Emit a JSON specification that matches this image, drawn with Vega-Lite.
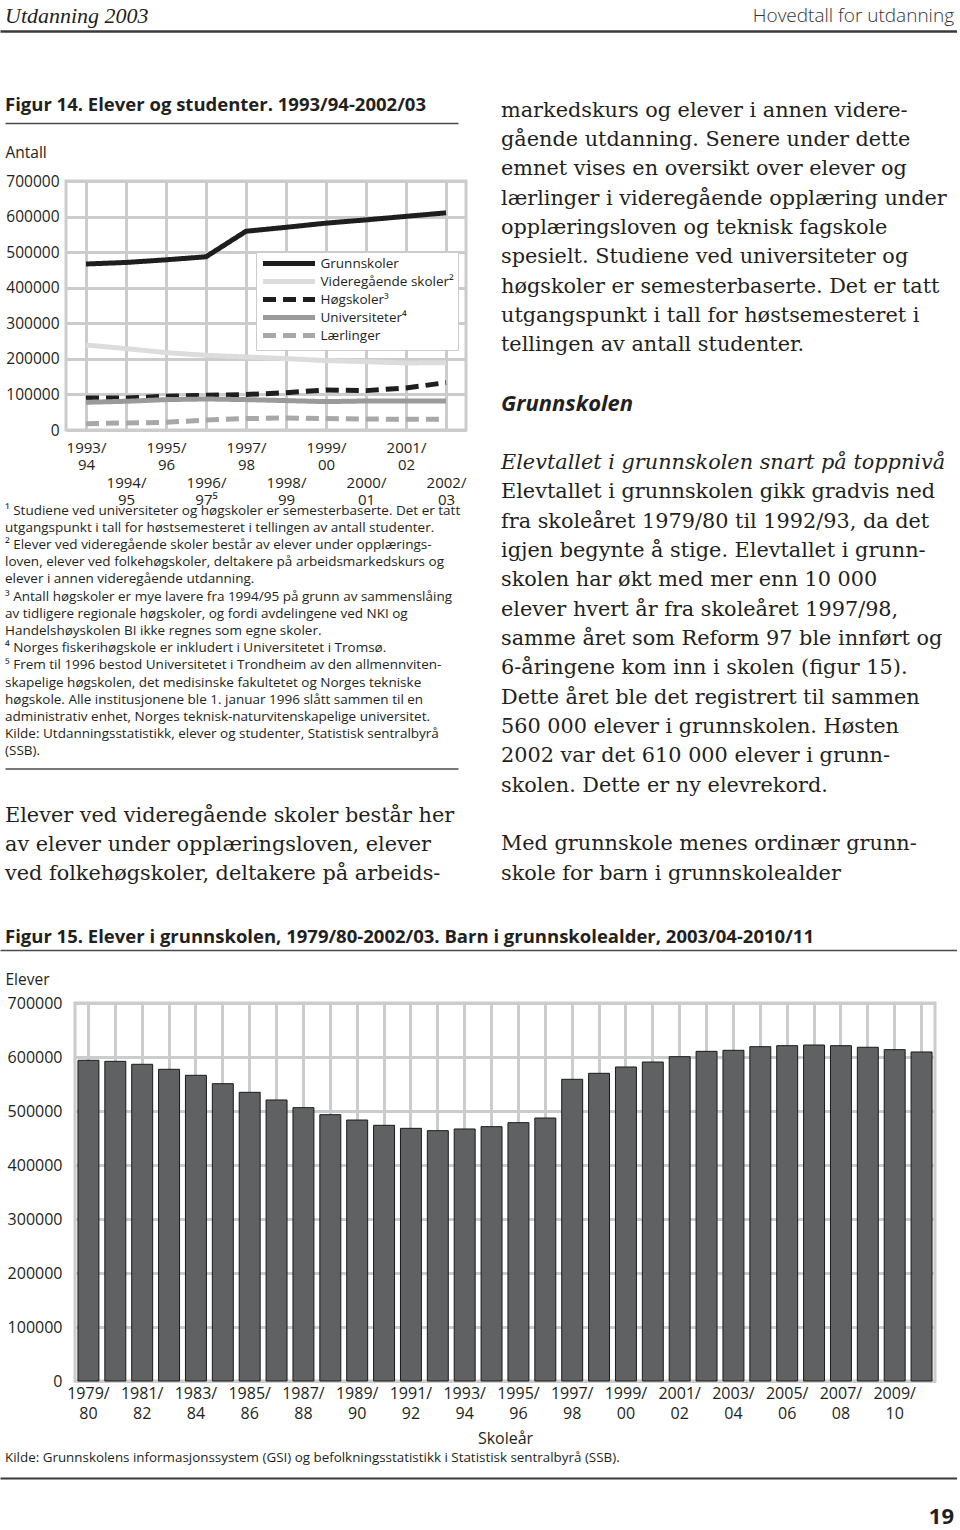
{
  "$schema": "https://vega.github.io/schema/vega-lite/v6.json",
  "padding": 0,
  "background": "white",
  "spacing": 0,
  "bounds": "flush",
  "config": {
    "font": "Open Sans",
    "view": {"stroke": null},
    "axis": {"labelColor": "#231f20", "titleColor": "#231f20", "labelFont": "Open Sans", "titleFont": "Open Sans"},
    "text": {"color": "#231f20"}
  },
  "datasets": {
    "header": [
      {"t": "Utdanning 2003", "k": "pub"},
      {"t": "Hovedtall for utdanning", "k": "sec"}
    ],
    "title14": [{"t": "Figur 14. Elever og studenter. 1993/94-2002/03"}],
    "title15": [{"t": "Figur 15. Elever i grunnskolen, 1979/80-2002/03. Barn i grunnskolealder, 2003/04-2010/11"}],
    "source15": [{"t": "Kilde: Grunnskolens informasjonssystem (GSI) og befolkningsstatistikk i Statistisk sentralbyrå (SSB)."}],
    "pagenum": [{"t": "19"}],
    "fig14": [
      {"year": "1993/94", "series": "Grunnskoler", "value": 466700},
      {"year": "1994/95", "series": "Grunnskoler", "value": 471000},
      {"year": "1995/96", "series": "Grunnskoler", "value": 478400},
      {"year": "1996/97", "series": "Grunnskoler", "value": 487000},
      {"year": "1997/98", "series": "Grunnskoler", "value": 558700},
      {"year": "1998/99", "series": "Grunnskoler", "value": 569800},
      {"year": "1999/00", "series": "Grunnskoler", "value": 581500},
      {"year": "2000/01", "series": "Grunnskoler", "value": 590700},
      {"year": "2001/02", "series": "Grunnskoler", "value": 600600},
      {"year": "2002/03", "series": "Grunnskoler", "value": 610500},
      {"year": "1993/94", "series": "Videregående skoler²", "value": 239000},
      {"year": "1994/95", "series": "Videregående skoler²", "value": 228800},
      {"year": "1995/96", "series": "Videregående skoler²", "value": 217600},
      {"year": "1996/97", "series": "Videregående skoler²", "value": 210000},
      {"year": "1997/98", "series": "Videregående skoler²", "value": 205300},
      {"year": "1998/99", "series": "Videregående skoler²", "value": 200600},
      {"year": "1999/00", "series": "Videregående skoler²", "value": 195000},
      {"year": "2000/01", "series": "Videregående skoler²", "value": 192200},
      {"year": "2001/02", "series": "Videregående skoler²", "value": 188400},
      {"year": "2002/03", "series": "Videregående skoler²", "value": 189400},
      {"year": "1993/94", "series": "Høgskoler³", "value": 90000},
      {"year": "1994/95", "series": "Høgskoler³", "value": 90000},
      {"year": "1995/96", "series": "Høgskoler³", "value": 94700},
      {"year": "1996/97", "series": "Høgskoler³", "value": 97500},
      {"year": "1997/98", "series": "Høgskoler³", "value": 99500},
      {"year": "1998/99", "series": "Høgskoler³", "value": 105000},
      {"year": "1999/00", "series": "Høgskoler³", "value": 112500},
      {"year": "2000/01", "series": "Høgskoler³", "value": 110700},
      {"year": "2001/02", "series": "Høgskoler³", "value": 118100},
      {"year": "2002/03", "series": "Høgskoler³", "value": 133200},
      {"year": "1993/94", "series": "Universiteter⁴", "value": 77900},
      {"year": "1994/95", "series": "Universiteter⁴", "value": 80700},
      {"year": "1995/96", "series": "Universiteter⁴", "value": 85400},
      {"year": "1996/97", "series": "Universiteter⁴", "value": 87200},
      {"year": "1997/98", "series": "Universiteter⁴", "value": 85400},
      {"year": "1998/99", "series": "Universiteter⁴", "value": 82600},
      {"year": "1999/00", "series": "Universiteter⁴", "value": 79800},
      {"year": "2000/01", "series": "Universiteter⁴", "value": 81600},
      {"year": "2001/02", "series": "Universiteter⁴", "value": 81600},
      {"year": "2002/03", "series": "Universiteter⁴", "value": 81600},
      {"year": "1993/94", "series": "Lærlinger", "value": 17900},
      {"year": "1994/95", "series": "Lærlinger", "value": 19700},
      {"year": "1995/96", "series": "Lærlinger", "value": 21500},
      {"year": "1996/97", "series": "Lærlinger", "value": 28100},
      {"year": "1997/98", "series": "Lærlinger", "value": 32000},
      {"year": "1998/99", "series": "Lærlinger", "value": 33700},
      {"year": "1999/00", "series": "Lærlinger", "value": 32000},
      {"year": "2000/01", "series": "Lærlinger", "value": 30900},
      {"year": "2001/02", "series": "Lærlinger", "value": 30000},
      {"year": "2002/03", "series": "Lærlinger", "value": 30000}
    ],
    "fig15": [
      {"year": "1979/80", "value": 593900},
      {"year": "1980/81", "value": 592000},
      {"year": "1981/82", "value": 586500},
      {"year": "1982/83", "value": 577200},
      {"year": "1983/84", "value": 566100},
      {"year": "1984/85", "value": 550600},
      {"year": "1985/86", "value": 534600},
      {"year": "1986/87", "value": 520400},
      {"year": "1987/88", "value": 506200},
      {"year": "1988/89", "value": 493200},
      {"year": "1989/90", "value": 483300},
      {"year": "1990/91", "value": 473500},
      {"year": "1991/92", "value": 467900},
      {"year": "1992/93", "value": 463600},
      {"year": "1993/94", "value": 466700},
      {"year": "1994/95", "value": 471000},
      {"year": "1995/96", "value": 478400},
      {"year": "1996/97", "value": 487000},
      {"year": "1997/98", "value": 558700},
      {"year": "1998/99", "value": 569800},
      {"year": "1999/00", "value": 581500},
      {"year": "2000/01", "value": 590700},
      {"year": "2001/02", "value": 600600},
      {"year": "2002/03", "value": 610500},
      {"year": "2003/04", "value": 612400},
      {"year": "2004/05", "value": 619100},
      {"year": "2005/06", "value": 621000},
      {"year": "2006/07", "value": 622200},
      {"year": "2007/08", "value": 621000},
      {"year": "2008/09", "value": 618000},
      {"year": "2009/10", "value": 613600},
      {"year": "2010/11", "value": 609300}
    ],
    "footnotes": [
      {"i": 0, "t": "¹ Studiene ved universiteter og høgskoler er semesterbaserte. Det er tatt"},
      {"i": 1, "t": "utgangspunkt i tall for høstsemesteret i tellingen av antall studenter."},
      {"i": 2, "t": "² Elever ved videregående skoler består av elever under opplærings-"},
      {"i": 3, "t": "loven, elever ved folkehøgskoler, deltakere på arbeidsmarkedskurs og"},
      {"i": 4, "t": "elever i annen videregående utdanning."},
      {"i": 5, "t": "³ Antall høgskoler er mye lavere fra 1994/95 på grunn av sammenslåing"},
      {"i": 6, "t": "av tidligere regionale høgskoler, og fordi avdelingene ved NKI og"},
      {"i": 7, "t": "Handelshøyskolen BI ikke regnes som egne skoler."},
      {"i": 8, "t": "⁴ Norges fiskerihøgskole er inkludert i Universitetet i Tromsø."},
      {"i": 9, "t": "⁵ Frem til 1996 bestod Universitetet i Trondheim av den allmennviten-"},
      {"i": 10, "t": "skapelige høgskolen, det medisinske fakultetet og Norges tekniske"},
      {"i": 11, "t": "høgskole. Alle institusjonene ble 1. januar 1996 slått sammen til en"},
      {"i": 12, "t": "administrativ enhet, Norges teknisk-naturvitenskapelige universitet."},
      {"i": 13, "t": "Kilde: Utdanningsstatistikk, elever og studenter, Statistisk sentralbyrå"},
      {"i": 14, "t": "(SSB)."}
    ],
    "leftBody": [
      {"i": 0, "t": "Elever ved videregående skoler består her"},
      {"i": 1, "t": "av elever under opplæringsloven, elever"},
      {"i": 2, "t": "ved folkehøgskoler, deltakere på arbeids-"}
    ],
    "rightText": [
      {"i": 0, "s": "b", "t": "markedskurs og elever i annen videre-"},
      {"i": 1, "s": "b", "t": "gående utdanning. Senere under dette"},
      {"i": 2, "s": "b", "t": "emnet vises en oversikt over elever og"},
      {"i": 3, "s": "b", "t": "lærlinger i videregående opplæring under"},
      {"i": 4, "s": "b", "t": "opplæringsloven og teknisk fagskole"},
      {"i": 5, "s": "b", "t": "spesielt. Studiene ved universiteter og"},
      {"i": 6, "s": "b", "t": "høgskoler er semesterbaserte. Det er tatt"},
      {"i": 7, "s": "b", "t": "utgangspunkt i tall for høstsemesteret i"},
      {"i": 8, "s": "b", "t": "tellingen av antall studenter."},
      {"i": 9, "s": "b", "t": ""},
      {"i": 10, "s": "h", "t": "Grunnskolen"},
      {"i": 11, "s": "b", "t": ""},
      {"i": 12, "s": "i", "t": "Elevtallet i grunnskolen snart på toppnivå"},
      {"i": 13, "s": "b", "t": "Elevtallet i grunnskolen gikk gradvis ned"},
      {"i": 14, "s": "b", "t": "fra skoleåret 1979/80 til 1992/93, da det"},
      {"i": 15, "s": "b", "t": "igjen begynte å stige. Elevtallet i grunn-"},
      {"i": 16, "s": "b", "t": "skolen har økt med mer enn 10 000"},
      {"i": 17, "s": "b", "t": "elever hvert år fra skoleåret 1997/98,"},
      {"i": 18, "s": "b", "t": "samme året som Reform 97 ble innført og"},
      {"i": 19, "s": "b", "t": "6-åringene kom inn i skolen (figur 15)."},
      {"i": 20, "s": "b", "t": "Dette året ble det registrert til sammen"},
      {"i": 21, "s": "b", "t": "560 000 elever i grunnskolen. Høsten"},
      {"i": 22, "s": "b", "t": "2002 var det 610 000 elever i grunn-"},
      {"i": 23, "s": "b", "t": "skolen. Dette er ny elevrekord."},
      {"i": 24, "s": "b", "t": ""},
      {"i": 25, "s": "b", "t": "Med grunnskole menes ordinær grunn-"},
      {"i": 26, "s": "b", "t": "skole for barn i grunnskolealder"}
    ]
  },
  "vconcat": [
    {
      "width": 957, "height": 31,
      "data": {"name": "header"},
      "layer": [
        {
          "transform": [{"filter": "datum.k == 'pub'"}],
          "mark": {"type": "text", "align": "left", "baseline": "middle", "dx": 5, "font": "Liberation Serif", "fontStyle": "italic", "fontSize": 22, "color": "#231f20"},
          "encoding": {
            "x": {"datum": 0, "type": "quantitative", "scale": {"domain": [0, 1]}, "axis": {"orient": "bottom", "domain": true, "domainColor": "#3a3a3a", "domainWidth": 2.5, "labels": false, "ticks": false, "grid": false, "title": null}},
            "text": {"field": "t"}
          }
        },
        {
          "transform": [{"filter": "datum.k == 'sec'"}],
          "mark": {"type": "text", "align": "right", "baseline": "middle", "dx": -3, "font": "Open Sans", "fontWeight": 300, "fontSize": 19, "color": "#333333"},
          "encoding": {
            "x": {"datum": 1, "type": "quantitative", "scale": {"domain": [0, 1]}, "axis": {"orient": "bottom", "domain": true, "domainColor": "#3a3a3a", "domainWidth": 2.5, "labels": false, "ticks": false, "grid": false, "title": null}},
            "text": {"field": "t"}
          }
        }
      ]
    },
    {"width": 1, "height": 56, "data": {"values": []}, "mark": "point"},
    {
      "hconcat": [
        {"width": 5, "height": 1, "data": {"values": []}, "mark": "point"},
        {
          "vconcat": [
            {
              "width": 453, "height": 36,
              "data": {"name": "title14"},
              "mark": {"type": "text", "align": "left", "baseline": "middle", "font": "Open Sans", "fontWeight": "bold", "fontSize": 18.5},
              "encoding": {
                "x": {"datum": 0, "type": "quantitative", "scale": {"domain": [0, 1]}, "axis": {"orient": "bottom", "domain": true, "domainColor": "#4a4a4a", "domainWidth": 1.5, "labels": false, "ticks": false, "grid": false, "title": null}},
                "text": {"field": "t"}
              }
            },
            {"width": 1, "height": 58, "data": {"values": []}, "mark": "point"},
            {
              "hconcat": [
                {"width": 61, "height": 1, "data": {"values": []}, "mark": "point"},
                {
                  "width": 400, "height": 249,
                  "view": {"stroke": "#cccccc", "strokeWidth": 3},
                  "data": {"name": "fig14"},
                  "mark": {"type": "line", "strokeWidth": 5, "strokeCap": "butt"},
                  "encoding": {
                    "x": {
                      "field": "year", "type": "ordinal",
                      "scale": {"type": "point", "padding": 0.5},
                      "axis": {
                        "title": null, "grid": true, "gridColor": "#cccccc", "gridWidth": 3, "ticks": false, "domain": false,
                        "labelAngle": 0, "labelAlign": "center", "labelBaseline": "top", "labelPadding": 10, "labelFontSize": 15, "labelLineHeight": 17.5, "labelOverlap": false,
                        "labelExpr": "toNumber(slice(datum.value, 0, 4)) % 2 == 1 ? [slice(datum.value, 0, 5), slice(datum.value, 5)] : ['\u200b', '\u200b', slice(datum.value, 0, 5), slice(datum.value, 5) + (datum.value == '1996/97' ? '⁵' : '')]"
                      }
                    },
                    "y": {
                      "field": "value", "type": "quantitative",
                      "scale": {"domain": [0, 700000], "nice": false},
                      "axis": {
                        "values": [0, 100000, 200000, 300000, 400000, 500000, 600000, 700000], "format": "d",
                        "grid": true, "gridColor": "#cccccc", "gridWidth": 3, "ticks": false, "domain": false,
                        "labelFontSize": 15.5, "labelPadding": 7,
                        "title": "Antall", "titleAngle": 0, "titleAlign": "left", "titleBaseline": "middle", "titleX": -61, "titleY": -29, "titleFontSize": 15.5, "titleFontWeight": "normal"
                      }
                    },
                    "color": {
                      "field": "series", "type": "nominal",
                      "scale": {"domain": ["Grunnskoler", "Videregående skoler²", "Høgskoler³", "Universiteter⁴", "Lærlinger"], "range": ["#1e1e1e", "#dcdcdc", "#1e1e1e", "#9a9a9a", "#a8a8a8"]},
                      "legend": {"orient": "none", "legendX": 256, "legendY": 252, "title": null, "symbolType": "M-1,0H9.4", "symbolSize": 100, "symbolStrokeWidth": 5, "symbolOffset": 0.5, "labelOffset": 45, "labelFontSize": 13.5, "labelColor": "#231f20", "rowPadding": -4.5, "padding": 4, "fillColor": "white", "strokeColor": "#cccccc"}
                    },
                    "strokeDash": {
                      "field": "series", "type": "nominal",
                      "scale": {"domain": ["Grunnskoler", "Videregående skoler²", "Høgskoler³", "Universiteter⁴", "Lærlinger"], "range": [[1, 0], [1, 0], [13, 7], [1, 0], [13, 7]]},
                      "legend": {"orient": "none", "legendX": 256, "legendY": 252, "title": null, "symbolType": "M-1,0H9.4", "symbolSize": 100, "symbolStrokeWidth": 5, "symbolOffset": 0.5, "labelOffset": 45, "labelFontSize": 13.5, "labelColor": "#231f20", "rowPadding": -4.5, "padding": 4, "fillColor": "white", "strokeColor": "#cccccc"}
                    }
                  }
                }
              ],
              "spacing": 0, "bounds": "flush"
            },
            {"width": 1, "height": 320.4, "data": {"values": []}, "mark": "point"},
            {
              "width": 453, "height": 258,
              "data": {"name": "footnotes"},
              "mark": {"type": "text", "align": "left", "baseline": "middle", "font": "Open Sans", "fontSize": 13.5},
              "encoding": {
                "y": {"field": "i", "type": "ordinal", "scale": {"type": "point", "padding": 0.5}, "axis": null},
                "x": {"datum": 0, "type": "quantitative", "scale": {"domain": [0, 1]}, "axis": {"orient": "bottom", "offset": 8.6, "domain": true, "domainColor": "#4a4a4a", "domainWidth": 1.5, "labels": false, "ticks": false, "grid": false, "title": null}},
                "text": {"field": "t"}
              }
            },
            {"width": 1, "height": 40.7, "data": {"values": []}, "mark": "point"},
            {
              "width": 453, "height": 88.05,
              "data": {"name": "leftBody"},
              "mark": {"type": "text", "align": "left", "baseline": "middle", "font": "DejaVu Serif", "fontSize": 20.8},
              "encoding": {
                "y": {"field": "i", "type": "ordinal", "scale": {"type": "point", "padding": 0.5}, "axis": null},
                "x": {"datum": 0, "type": "quantitative", "scale": {"domain": [0, 1]}, "axis": null},
                "text": {"field": "t"}
              }
            }
          ],
          "spacing": 0, "bounds": "flush"
        },
        {"width": 496, "height": 1, "data": {"values": []}, "mark": "point"},
        {
          "vconcat": [
            {"width": 1, "height": 8.3, "data": {"values": []}, "mark": "point"},
            {
              "width": 454, "height": 792.45,
              "data": {"name": "rightText"},
              "encoding": {
                "y": {"field": "i", "type": "ordinal", "scale": {"type": "point", "padding": 0.5}, "axis": null},
                "x": {"datum": 0, "type": "quantitative", "scale": {"domain": [0, 1]}, "axis": null},
                "text": {"field": "t"}
              },
              "layer": [
                {"transform": [{"filter": "datum.s == 'b'"}], "mark": {"type": "text", "align": "left", "baseline": "middle", "font": "DejaVu Serif", "fontSize": 20.8}},
                {"transform": [{"filter": "datum.s == 'i'"}], "mark": {"type": "text", "align": "left", "baseline": "middle", "font": "DejaVu Serif", "fontStyle": "italic", "fontSize": 20.8}},
                {"transform": [{"filter": "datum.s == 'h'"}], "mark": {"type": "text", "align": "left", "baseline": "middle", "font": "Open Sans", "fontWeight": "bold", "fontStyle": "italic", "fontSize": 22}}
              ]
            }
          ],
          "spacing": 0, "bounds": "flush"
        }
      ],
      "spacing": 0, "bounds": "flush"
    },
    {"width": 1, "height": 837, "data": {"values": []}, "mark": "point"},
    {
      "vconcat": [
        {
          "width": 957, "height": 26,
          "data": {"name": "title15"},
          "mark": {"type": "text", "align": "left", "baseline": "middle", "dx": 5, "font": "Open Sans", "fontWeight": "bold", "fontSize": 18.5},
          "encoding": {
            "x": {"datum": 0, "type": "quantitative", "scale": {"domain": [0, 1]}, "axis": {"orient": "bottom", "domain": true, "domainColor": "#4a4a4a", "domainWidth": 1.5, "labels": false, "ticks": false, "grid": false, "title": null}},
            "text": {"field": "t"}
          }
        },
        {"width": 1, "height": 53, "data": {"values": []}, "mark": "point"},
        {
          "hconcat": [
            {"width": 75, "height": 1, "data": {"values": []}, "mark": "point"},
            {
              "width": 860, "height": 378,
              "view": {"stroke": "#cccccc", "strokeWidth": 3},
              "data": {"name": "fig15"},
              "mark": {"type": "bar", "fill": "#606163", "stroke": "#1a1a1a", "strokeWidth": 1},
              "encoding": {
                "x": {
                  "field": "year", "type": "ordinal",
                  "scale": {"paddingInner": 0.22, "paddingOuter": 0.11},
                  "axis": {
                    "title": "Skoleår", "titleFontSize": 16, "titleFontWeight": "normal", "titlePadding": 9,
                    "grid": true, "gridColor": "#cccccc", "gridWidth": 3, "ticks": false, "domain": false,
                    "labelAngle": 0, "labelAlign": "center", "labelBaseline": "top", "labelPadding": 4, "labelFontSize": 16, "labelLineHeight": 20, "labelOverlap": false,
                    "labelExpr": "toNumber(slice(datum.value, 0, 4)) % 2 == 1 ? [slice(datum.value, 0, 5), slice(datum.value, 5)] : ''"
                  }
                },
                "y": {
                  "field": "value", "type": "quantitative",
                  "scale": {"domain": [0, 700000], "nice": false},
                  "axis": {
                    "values": [0, 100000, 200000, 300000, 400000, 500000, 600000, 700000], "format": "d",
                    "grid": true, "gridColor": "#cccccc", "gridWidth": 3, "ticks": false, "domain": false,
                    "labelFontSize": 16, "labelPadding": 13,
                    "title": "Elever", "titleAngle": 0, "titleAlign": "left", "titleBaseline": "middle", "titleX": -70, "titleY": -24, "titleFontSize": 15.5, "titleFontWeight": "normal"
                  }
                }
              }
            }
          ],
          "spacing": 0, "bounds": "flush"
        },
        {"width": 1, "height": 443, "data": {"values": []}, "mark": "point"},
        {
          "width": 957, "height": 24,
          "data": {"name": "source15"},
          "mark": {"type": "text", "align": "left", "baseline": "middle", "dx": 5, "font": "Open Sans", "fontSize": 13.4},
          "encoding": {
            "x": {"datum": 0, "type": "quantitative", "scale": {"domain": [0, 1]}, "axis": {"orient": "bottom", "offset": 8, "domain": true, "domainColor": "#3a3a3a", "domainWidth": 2, "labels": false, "ticks": false, "grid": false, "title": null}},
            "text": {"field": "t"}
          }
        },
        {"width": 1, "height": 35, "data": {"values": []}, "mark": "point"},
        {
          "width": 957, "height": 24,
          "data": {"name": "pagenum"},
          "mark": {"type": "text", "align": "right", "baseline": "middle", "dx": -3, "font": "Open Sans", "fontWeight": "bold", "fontSize": 22},
          "encoding": {
            "x": {"datum": 1, "type": "quantitative", "scale": {"domain": [0, 1]}, "axis": null},
            "text": {"field": "t"}
          }
        }
      ],
      "spacing": 0, "bounds": "flush"
    }
  ]
}
